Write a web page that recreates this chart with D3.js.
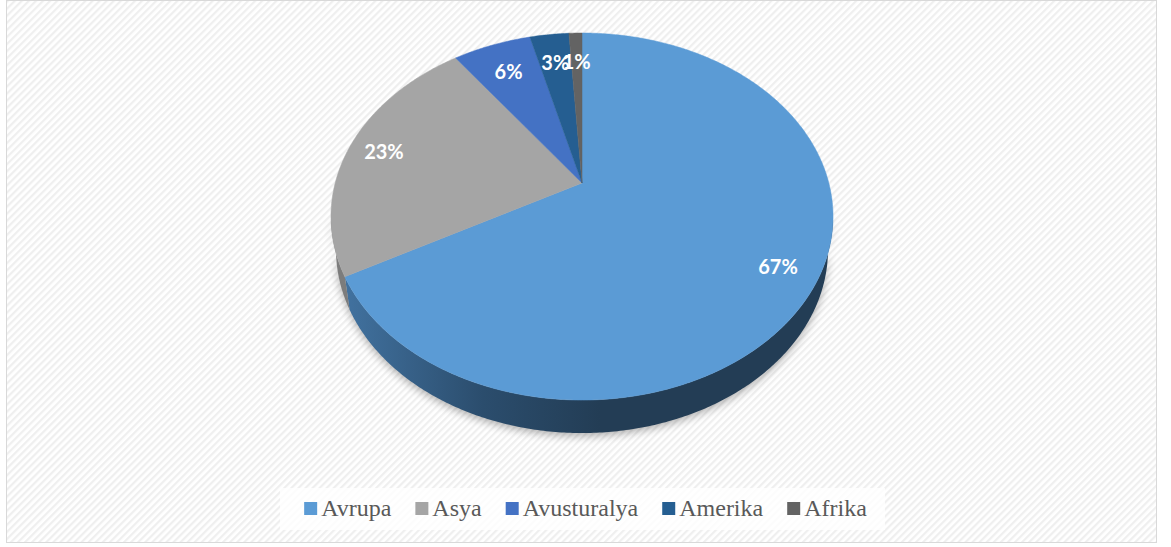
<!DOCTYPE html>
<html>
<head>
<meta charset="utf-8">
<script src="https://cdn.jsdelivr.net/npm/d3@7"></script>
<style>
  html, body { margin: 0; padding: 0; background: #ffffff; }
  svg { display: block; }
</style>
</head>
<body>
<svg id="chart"></svg>
<script>
// Chart data.
const categories = ["Avrupa", "Asya", "Avusturalya", "Amerika", "Afrika"];
const values = [67, 23, 6, 3, 1];
const colors = ["#5b9bd5", "#a5a5a5", "#4472c4", "#255e91", "#636363"];

// Rendering variables.
const width = 1171;
const height = 547;
const cx = 582;
const cy = 183;
const rx = 246.8; // horizontal radius before perspective
const ry = 177.4; // vertical radius before perspective
const persp = 0.1827; // perspective strength
const depth = 33;
const bottomScale = 0.98; // bottom rim is a bit farther away

const svg = d3.select("#chart").attr("width", width).attr("height", height);
const defs = svg.append("defs");

// Hatched background.
const hatch = defs
  .append("pattern")
  .attr("id", "hatch")
  .attr("patternUnits", "userSpaceOnUse")
  .attr("width", 5)
  .attr("height", 5)
  .attr("patternTransform", "rotate(45)");
hatch.append("rect").attr("width", 5).attr("height", 5).attr("fill", "#ffffff");
hatch
  .append("rect")
  .attr("width", 2.2)
  .attr("height", 5)
  .attr("fill", "#efefef");

// Shadow under the pie.
const blur = defs.append("filter").attr("id", "blur").attr("x", "-10%").attr("y", "-10%").attr("width", "120%").attr("height", "130%");
blur.append("feGaussianBlur").attr("stdDeviation", 4);

// Side shading.
const sideGrad = defs
  .append("linearGradient")
  .attr("id", "side0")
  .attr("gradientUnits", "userSpaceOnUse")
  .attr("x1", 340)
  .attr("x2", 600)
  .attr("y1", 0)
  .attr("y2", 0);
sideGrad.append("stop").attr("offset", 0).attr("stop-color", "#4273a1");
sideGrad.append("stop").attr("offset", 0.55).attr("stop-color", "#2b4d6d");
sideGrad.append("stop").attr("offset", 1).attr("stop-color", "#233d55");

svg
  .append("rect")
  .attr("x", 6.5)
  .attr("y", 0.5)
  .attr("width", 1150)
  .attr("height", 542)
  .attr("fill", "url(#hatch)")
  .attr("stroke", "#d9d9d9")
  .attr("stroke-width", 1);

// Projects an angle (clockwise from top) and radius fraction onto the tilted disc.
function proj(t, r, dy = 0) {
  const den = 1 + persp * r * Math.cos(t);
  const sc = dy ? bottomScale : 1;
  return [cx + (sc * rx * r * Math.sin(t)) / den, cy - (ry * r * Math.cos(t)) / den + dy];
}

function arcPoints(a0, a1, dy = 0) {
  const n = Math.max(2, Math.ceil((a1 - a0) / 0.01));
  return d3.range(n + 1).map((i) => proj(a0 + ((a1 - a0) * i) / n, 1, dy));
}

const color = d3.scaleOrdinal().domain(categories).range(colors);
const total = d3.sum(values);
const arcs = d3
  .pie()
  .sort(null)
  .value((d) => d.value)(categories.map((name, i) => ({ name, value: values[i] })));

// Visible front range of the rim.
const frontStart = Math.acos(-persp);
const frontEnd = 2 * Math.PI - frontStart;
const line = d3.line();

const sides = arcs
  .map((a, i) => {
    const a0 = Math.max(a.startAngle, frontStart);
    const a1 = Math.min(a.endAngle, frontEnd);
    if (a1 <= a0) return null;
    const top = arcPoints(a0, a1);
    const bottom = arcPoints(a0, a1, depth).reverse();
    return { i, name: a.data.name, pts: top.concat(bottom) };
  })
  .filter((s) => s);

// Shadow.
svg
  .append("path")
  .attr("d", line(arcPoints(frontStart, frontEnd, depth + 3).concat(arcPoints(frontStart, frontEnd, 0).reverse())) + "Z")
  .attr("fill", "#000")
  .attr("opacity", 0.3)
  .attr("filter", "url(#blur)");

svg
  .selectAll("path.side")
  .data(sides)
  .join("path")
  .attr("class", "side")
  .attr("d", (s) => line(s.pts) + "Z")
  .attr("fill", (s) => (s.i === 0 ? "url(#side0)" : d3.color(color(s.name)).darker(0.8)));

svg
  .selectAll("path.top")
  .data(arcs)
  .join("path")
  .attr("class", "top")
  .attr("d", (a) => line([[cx, cy]].concat(arcPoints(a.startAngle, a.endAngle))) + "Z")
  .attr("fill", (a) => color(a.data.name))
  .attr("stroke", (a) => color(a.data.name))
  .attr("stroke-width", 0.5);

svg
  .selectAll("text.label")
  .data(arcs)
  .join("text")
  .attr("class", "label")
  .attr("x", (a) => proj((a.startAngle + a.endAngle) / 2, a.data.value >= 10 ? 0.85 : 0.79)[0])
  .attr("y", (a) => proj((a.startAngle + a.endAngle) / 2, a.data.value >= 10 ? 0.85 : 0.79)[1])
  .attr("text-anchor", "middle")
  .attr("dominant-baseline", "central")
  .attr("fill", "#ffffff")
  .attr("font-family", "Lato, 'Open Sans', sans-serif")
  .attr("font-weight", "bold")
  .attr("font-size", 20)
  .text((a) => Math.round((a.data.value / total) * 100) + "%");

// Legend.
svg
  .append("rect")
  .attr("x", 280)
  .attr("y", 488)
  .attr("width", 605)
  .attr("height", 42)
  .attr("fill", "#ffffff")
  .attr("opacity", 0.8);

const legend = svg.append("g");
const items = legend
  .selectAll("g")
  .data(categories)
  .join("g");
items
  .append("rect")
  .attr("y", 502)
  .attr("width", 13)
  .attr("height", 13)
  .attr("fill", (d) => color(d));
items
  .append("text")
  .attr("x", 17)
  .attr("y", 516)
  .attr("fill", "#595959")
  .attr("font-family", "'Liberation Serif', 'Times New Roman', serif")
  .attr("font-size", 24)
  .text((d) => d);

let pos = 0;
const offsets = [];
items.each(function () {
  offsets.push(pos);
  pos += 17 + this.querySelector("text").getComputedTextLength() + 24;
});
const legendWidth = pos - 24;
const legendX = 585.5 - legendWidth / 2;
items.attr("transform", (d, i) => `translate(${legendX + offsets[i]},0)`);
</script>
</body>
</html>
